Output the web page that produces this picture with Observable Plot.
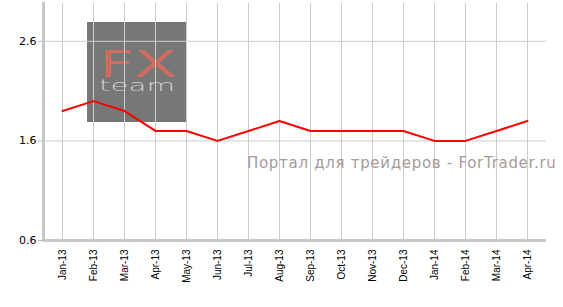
<!DOCTYPE html>
<html><head><meta charset="utf-8">
<script src="https://cdn.jsdelivr.net/npm/d3@7"></script>
<script src="https://cdn.jsdelivr.net/npm/@observablehq/plot@0.6"></script>
<style>
body{margin:0;background:#fff;}
#wrap{position:relative;width:563px;height:307px;overflow:hidden;}
#logo{position:absolute;left:87px;top:22px;width:99px;height:100px;background:#777;z-index:0;}
#logo svg{position:absolute;left:0;top:0;}
#chart{position:absolute;left:0;top:0;z-index:1;}
#wm{position:absolute;left:247px;top:154px;font:15px "DejaVu Sans",sans-serif;letter-spacing:0.7px;color:#a59b9b;white-space:nowrap;z-index:2;}
</style></head>
<body><div id="wrap"><div id="logo"><svg width="99" height="100">
<text x="12" y="54" textLength="77" lengthAdjust="spacingAndGlyphs" font-family="DejaVu Sans" font-weight="200" font-size="33" fill="none" stroke="#d86b5c" stroke-width="1.3">FX</text>
<text x="12" y="69" textLength="76" lengthAdjust="spacingAndGlyphs" font-family="DejaVu Sans" font-weight="200" font-size="16" fill="#d0d0d0">team</text>
</svg></div><div id="chart"></div><div id="wm">Портал для трейдеров - ForTrader.ru</div></div>
<script>
const months = ["Jan-13","Feb-13","Mar-13","Apr-13","May-13","Jun-13","Jul-13","Aug-13","Sep-13","Oct-13","Nov-13","Dec-13","Jan-14","Feb-14","Mar-14","Apr-14"];
const values = [1.9,2.0,1.9,1.7,1.7,1.6,1.7,1.8,1.7,1.7,1.7,1.7,1.6,1.6,1.7,1.8];
const yTicks = [0.6,1.6,2.6];
const data = months.map((m,i)=>({m, v: values[i]}));
const chart = Plot.plot({
  width:563, height:307,
  marginTop:3, marginBottom:67, marginLeft:43, marginRight:17,
  style:{background:"transparent", overflow:"visible"},
  x:{type:"point", domain:months, padding:0.53, label:null},
  y:{domain:[0.6,2.98], label:null},
  marks:[
    Plot.gridX(months,{stroke:"#cccccc", strokeOpacity:1}),
    Plot.gridY(yTicks,{stroke:"#cccccc", strokeOpacity:1}),
    Plot.axisY(yTicks,{tickFormat:d3.format(".1f"), tickSize:5, tickPadding:2, stroke:"#bbbbbb", fill:"#000", fontSize:11, fontFamily:"DejaVu Sans", label:null}),
    Plot.axisX(months,{tickSize:0, tickPadding:9, tickRotate:-90, fontSize:10, fontFamily:"Liberation Sans", fill:"#000", label:null}),
    Plot.ruleY([0.6],{stroke:"#c8c8c8", strokeWidth:3}),
    Plot.frame({anchor:"left", stroke:"#c8c8c8", strokeWidth:3}),
    Plot.line(data,{x:"m", y:"v", stroke:"#ff0000", strokeWidth:2})
  ]
});
document.getElementById("chart").appendChild(chart);
</script></body></html>
